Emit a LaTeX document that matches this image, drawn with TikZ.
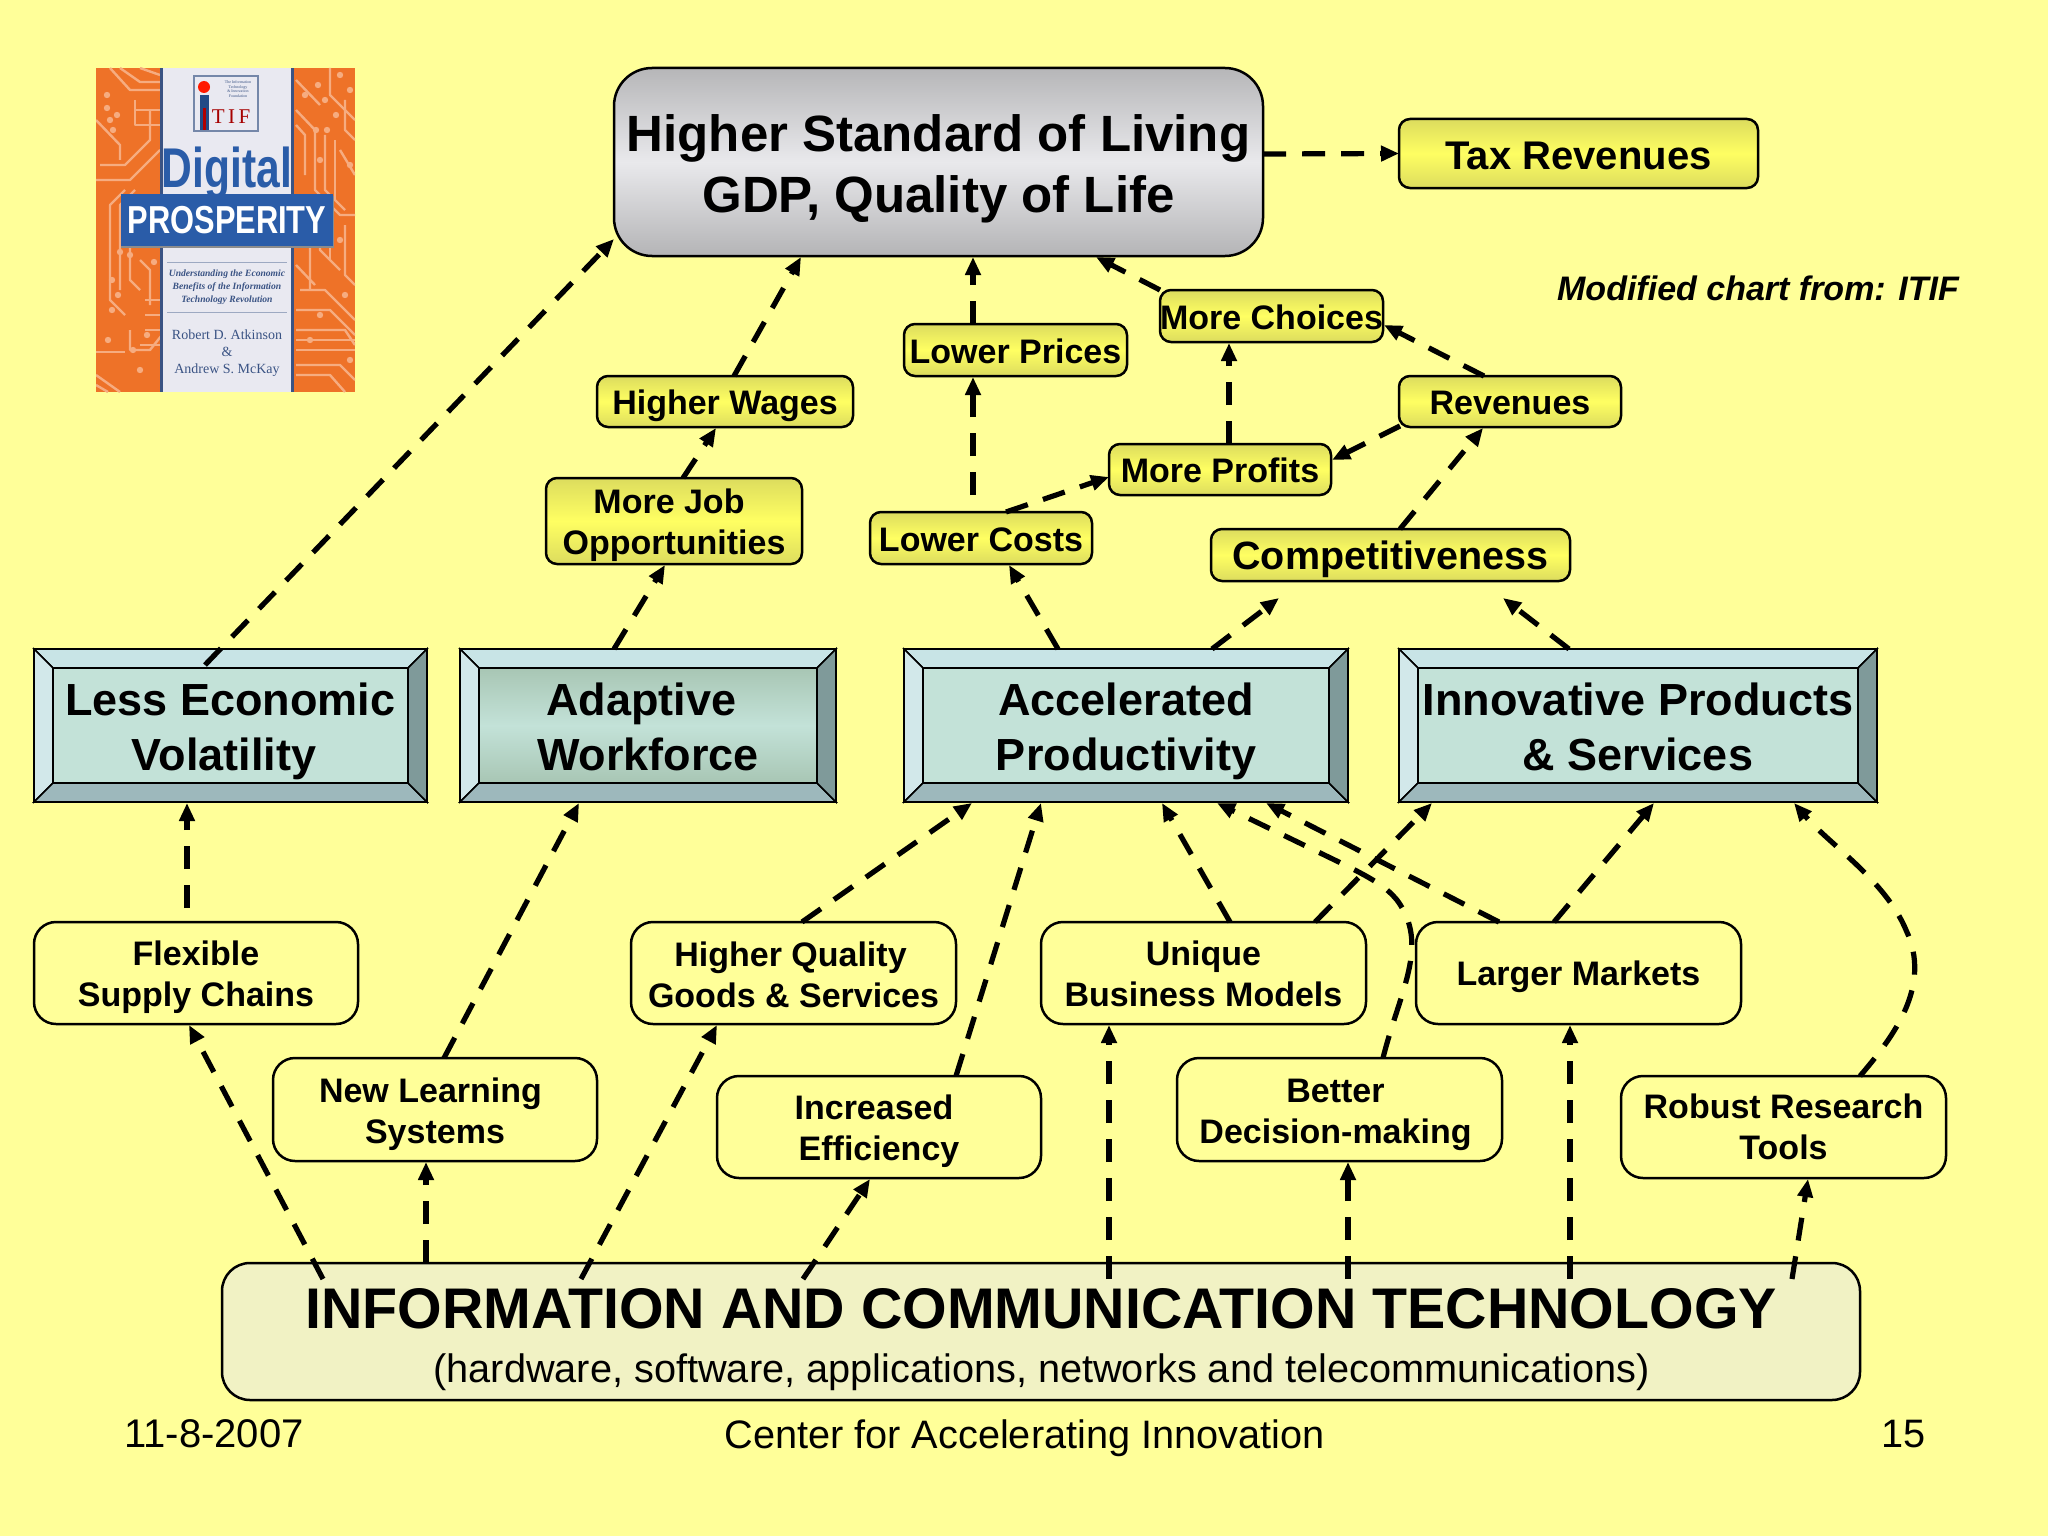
\documentclass[tikz,border=0pt]{standalone}
\usepackage{fontspec}
\setmainfont{Liberation Sans}
\newfontfamily\coverserif{Liberation Serif}
\usetikzlibrary{arrows.meta,calc}
\definecolor{bgy}{HTML}{FFFF99}
\definecolor{ydark}{HTML}{DCDC5E}
\definecolor{ymid}{HTML}{FFFF62}
\definecolor{gtop}{HTML}{B6B6B8}
\definecolor{gmid}{HTML}{E9E9EC}
\definecolor{gbot}{HTML}{B4B4B6}
\definecolor{icty}{HTML}{F1F2C4}
\definecolor{btop}{HTML}{C8E4E6}
\definecolor{bleft}{HTML}{D2E8EA}
\definecolor{bbot}{HTML}{9DB8BC}
\definecolor{bright}{HTML}{7F9A9A}
\definecolor{binner}{HTML}{C3E2D8}
\definecolor{bshade}{HTML}{A8C6B4}
\definecolor{corange}{HTML}{EE7228}
\definecolor{ctrace}{HTML}{F6AC80}
\definecolor{cstrip}{HTML}{E9E9F1}
\definecolor{cblue}{HTML}{2A5CA8}
\definecolor{cink}{HTML}{3A5384}
\tikzset{
  boxbase/.style={draw=black,line width=2.5pt,inner sep=0pt,outer sep=0pt},
  titlebox/.style={boxbase,rounded corners=38pt,shading=axis,top color=gtop,bottom color=gbot,middle color=gmid},
  yellowbox/.style={boxbase,rounded corners=11pt,shading=axis,top color=ydark,bottom color=ydark,middle color=ymid},
  plainbox/.style={boxbase,rounded corners=22pt,fill=bgy},
  ictbox/.style={boxbase,rounded corners=28pt,fill=icty},
  labeltext/.style={inner sep=0pt,outer sep=0pt,align=center,text=black},
  titletext/.style={labeltext,font=\fontsize{51}{61}\selectfont\bfseries},
  smalltext/.style={labeltext,font=\fontsize{34}{41}\selectfont\bfseries},
  bigtext/.style={labeltext,font=\fontsize{45}{55}\selectfont\bfseries},
  bevelouter/.style={draw=black,line width=2.5pt,inner sep=0pt,outer sep=0pt},
  bevelinner/.style={draw=black,line width=2pt,inner sep=0pt,outer sep=0pt,fill=binner},
  bevelshade/.style={bevelinner,shading=axis,top color=bshade,bottom color=bshade,middle color=binner},
  bevelface/.style={draw=black,line width=1.5pt},
  conn/.style={line width=5.2pt,dash pattern=on 23pt off 16pt,-{Triangle[length=18pt,width=15pt]},draw=black},
  trace/.style={draw=ctrace,line width=2.4pt,line join=round},
  covertext/.style={inner sep=0pt,outer sep=0pt,align=center},
}
\newcommand{\boxnode}[8]{%
  \pgfmathsetmacro{\cxx}{(#4+#6)/2}\pgfmathsetmacro{\cyy}{(#5+#7)/2}%
  \pgfmathsetmacro{\ww}{#6-#4}\pgfmathsetmacro{\hh}{#7-#5}%
  \node[#1,minimum width=\ww pt,minimum height=\hh pt] (#3) at (\cxx,\cyy) {};
  \node[#2] (#3-t) at (\cxx,\cyy) {#8};}
\newcommand{\bevelnode}[8]{%
  \pgfmathsetmacro{\cxx}{(#4+#6)/2}\pgfmathsetmacro{\cyy}{(#5+#7)/2}%
  \pgfmathsetmacro{\ww}{#6-#4}\pgfmathsetmacro{\hh}{#7-#5}%
  \pgfmathsetmacro{\iw}{#6-#4-38}\pgfmathsetmacro{\ih}{#7-#5-38}%
  \pgfmathsetmacro{\pax}{#4+19}\pgfmathsetmacro{\pay}{#5+19}%
  \pgfmathsetmacro{\pbx}{#6-19}\pgfmathsetmacro{\pby}{#7-19}%
  \node[bevelouter,minimum width=\ww pt,minimum height=\hh pt] (#3) at (\cxx,\cyy) {};
  \filldraw[fill=btop,bevelface] (#4,#5) -- (#6,#5) -- (\pbx,\pay) -- (\pax,\pay) -- cycle;
  \filldraw[fill=bleft,bevelface] (#4,#5) -- (\pax,\pay) -- (\pax,\pby) -- (#4,#7) -- cycle;
  \filldraw[fill=bbot,bevelface] (#4,#7) -- (\pax,\pby) -- (\pbx,\pby) -- (#6,#7) -- cycle;
  \filldraw[fill=bright,bevelface] (#6,#5) -- (\pbx,\pay) -- (\pbx,\pby) -- (#6,#7) -- cycle;
  \node[#1,minimum width=\iw pt,minimum height=\ih pt] (#3-in) at (\cxx,\cyy) {};
  \draw[black,line width=2.5pt] (#3.north west) rectangle (#3.south east);
  \node[#2] (#3-t) at (\cxx,\cyy) {#8};}
\begin{document}
\begin{tikzpicture}[x=1pt,y=-1pt]
\fill[bgy] (0,0) rectangle (2048,1536);
\useasboundingbox (0,0) rectangle (2048,1536);

% ---- book cover
\begin{scope}
\clip (96,68) rectangle (355,392);
\fill[corange] (96,68) rectangle (355,392);
\foreach \p in {
 {(100,165)--(125,165)--(150,140)--(150,110)},{(96,180)--(130,180)--(160,150)},{(110,68)--(130,90)--(160,90)},
 {(120,68)--(140,82)--(160,82)},{(140,68)--(160,75)},{(125,190)--(110,205)--(110,300)--(125,315)},{(135,190)--(120,205)--(120,290)},
 {(130,195)--(130,280)--(140,290)},{(140,200)--(160,200)},{(140,210)--(160,210)},{(140,220)--(160,220)},{(140,230)--(160,230)},
 {(130,330)--(130,350)--(150,350)--(162,335)},{(96,352)--(125,352)},{(140,260)--(150,270)--(150,305)},
 {(96,375)--(120,392)},{(96,385)--(108,392)},{(145,300)--(160,300)},{(145,315)--(160,315)},{(145,330)--(160,330)},
 {(140,345)--(160,345)},{(96,120)--(120,145)--(120,160)},{(135,100)--(135,125)--(160,125)},{(135,110)--(160,110)},
 {(296,110)--(315,130)--(315,190)--(340,215)--(355,215)},{(296,125)--(305,135)--(305,175)},{(330,68)--(330,95)--(355,120)},
 {(345,100)--(345,130)--(355,140)},{(300,200)--(320,200)--(320,250)--(340,270)},{(296,230)--(310,245)--(310,290)},
 {(300,290)--(325,290)--(355,320)},{(296,310)--(330,310)--(355,335)},{(296,330)--(345,330)--(355,345)},
 {(296,350)--(355,350)},{(296,365)--(340,365)--(355,380)},{(296,375)--(330,375)--(345,392)},
 {(296,265)--(315,285)},{(340,150)--(355,175)},{(335,140)--(335,200)},{(325,135)--(325,190)--(345,210)},
 {(296,340)--(355,340)},{(296,80)--(320,105)},{(345,225)--(345,275)--(355,285)},{(330,225)--(330,260)}}
  {\draw[trace] \p;}
\foreach \q in {(107,95),(107,108),(110,120),(113,130),(117,115),(130,230),(130,255),(112,280),(118,295),(112,310),
  (108,340),(133,350),(147,335),(140,370),(150,240),(154,262),(120,252),(305,95),(318,85),(325,100),(340,75),(350,90),
  (336,115),(320,160),(350,165),(312,225),(340,240),(320,315),(345,295),(310,340),(350,360),(316,130),(327,130)}
  {\fill[ctrace] \q circle (3.2);}
\end{scope}
\fill[cstrip] (162,68) rectangle (292,392);
\fill[cink] (160,68) rectangle (163,392);
\fill[cink] (291,68) rectangle (294,392);
% logo
\draw[cink!70,line width=1.5pt] (194,76) rectangle (258,131);
\fill[red!80!orange] (204,87) circle (6);
\fill[cblue!80!black] (200,95) rectangle (209,130);
\fill[red!70!black] (203,108) rectangle (206,130);
\node[covertext,text=red!65!black,font=\coverserif\fontsize{21}{21}\selectfont] (coverlogo) at (231,117) {T\,I\,F};
\node[covertext,text=cink,font=\coverserif\fontsize{4}{4.6}\selectfont] (coverfound) at (238,89) {The Information\\Technology\\\& Innovation\\Foundation};
% title
\node[covertext,text=cblue,font=\fontsize{56}{56}\selectfont\bfseries,xscale=0.76] (coverdigital) at (227,173) {Digital};
\fill[black!45] (121,196) rectangle (334,248);
\fill[cblue] (121,194) rectangle (333,246);
\node[covertext,text=white,font=\fontsize{39}{39}\selectfont\bfseries,xscale=0.79] (coverprosp) at (227,220) {PROSPERITY};
\draw[cink!50,line width=1pt] (167,262) -- (287,262);
\draw[cink!50,line width=1pt] (167,312) -- (287,312);
\node[covertext,text=cink,font=\coverserif\itshape\bfseries\fontsize{9.6}{13.2}\selectfont] (coversub) at (227,287) {Understanding the Economic\\Benefits of the Information\\Technology Revolution};
\node[covertext,text=cink,font=\coverserif\fontsize{14}{17}\selectfont] (coverauth) at (227,353) {Robert D. Atkinson\\\&\\Andrew S. McKay};

% ---- boxes
\boxnode{titlebox}{titletext,yshift=-6.5pt}{title}{614}{68}{1263}{256}{Higher Standard of Living\\GDP, Quality of Life}
\boxnode{yellowbox}{labeltext,font=\fontsize{40}{46}\selectfont\bfseries,yshift=-2pt}{tax}{1399}{119}{1758}{188}{Tax Revenues}
\boxnode{yellowbox}{smalltext,yshift=-1.3pt}{prices}{904}{324}{1127}{376}{Lower Prices}
\boxnode{yellowbox}{smalltext,yshift=-1.3pt}{choices}{1160}{290}{1383}{342}{More Choices}
\boxnode{yellowbox}{smalltext,yshift=-4pt}{wages}{597}{376}{853}{427}{Higher Wages}
\boxnode{yellowbox}{smalltext,yshift=-1.3pt}{rev}{1399}{376}{1621}{427}{Revenues}
\boxnode{yellowbox}{smalltext,yshift=-1.3pt}{profits}{1109}{444}{1331}{495}{More Profits}
\boxnode{yellowbox}{smalltext,yshift=-4.5pt}{job}{546}{478}{802}{564}{More Job\hspace*{10pt}\\Opportunities}
\boxnode{yellowbox}{smalltext,yshift=-2pt}{costs}{870}{512}{1092}{564}{Lower Costs}
\boxnode{yellowbox}{labeltext,font=\fontsize{39.5}{44}\selectfont\bfseries,yshift=-4pt}{comp}{1211}{529}{1570}{581}{Competitiveness}

\bevelnode{bevelinner}{bigtext,yshift=-5.5pt}{less}{34}{649}{427}{802}{Less Economic\\Volatility\hspace*{13pt}}
\bevelnode{bevelshade}{bigtext,yshift=-1pt}{adaptive}{460}{649}{836}{802}{Adaptive\hspace*{13pt}\\Workforce}
\bevelnode{bevelinner}{bigtext,yshift=-5.5pt}{accel}{904}{649}{1348}{802}{Accelerated\\Productivity}
\bevelnode{bevelinner}{bigtext,yshift=-1pt}{innov}{1399}{649}{1877}{802}{Innovative Products\\\& Services}

\boxnode{plainbox}{smalltext,yshift=-4.5pt}{flex}{34}{922}{358}{1024}{Flexible\\Supply Chains}
\boxnode{plainbox}{smalltext,yshift=-5pt}{learn}{273}{1058}{597}{1161}{New Learning\hspace*{9pt}\\Systems}
\boxnode{plainbox}{smalltext,yshift=-1.5pt}{qual}{631}{922}{956}{1024}{Higher Quality\hspace*{6pt}\\Goods \& Services}
\boxnode{plainbox}{smalltext,yshift=-4pt}{incr}{717}{1076}{1041}{1178}{Increased\hspace*{10pt}\\Efficiency}
\boxnode{plainbox}{smalltext,yshift=-1pt}{uniq}{1041}{922}{1366}{1024}{Unique\\Business Models}
\boxnode{plainbox}{smalltext,yshift=-5pt,xshift=-4pt}{better}{1177}{1058}{1502}{1161}{Better\\Decision-making}
\boxnode{plainbox}{smalltext,yshift=-4pt}{larger}{1416}{922}{1741}{1024}{Larger Markets}
\boxnode{plainbox}{smalltext,yshift=-0.2pt}{robust}{1621}{1076}{1946}{1178}{Robust Research\\Tools}
\boxnode{ictbox}{labeltext,font=\fontsize{57.3}{62}\selectfont\bfseries,yshift=22.5pt}{ict}{222}{1263}{1860}{1400}{INFORMATION AND COMMUNICATION TECHNOLOGY}
\node[labeltext,font=\fontsize{39.7}{44}\selectfont] (ictsub) at (1041.5,1372) {(hardware, software, applications, networks and telecommunications)};

% ---- free texts
\node[labeltext,font=\fontsize{34}{38}\selectfont\bfseries\itshape] (modified) at (1758,288) {Modified chart from: ITIF};
\node[labeltext,font=\fontsize{40}{44}\selectfont] (date) at (214,1434) {11-8-2007};
\node[labeltext,font=\fontsize{39.7}{44}\selectfont,yshift=-4pt] (center) at (1024.5,1434) {Center for Accelerating Innovation};
\node[labeltext,font=\fontsize{39.7}{44}\selectfont] (page) at (1903.5,1434) {15};

% ---- connectors
\draw[conn] ([yshift=8pt]title.east) -- (tax.west);
\draw[conn] ([xshift=171pt,yshift=-16pt]less.north west) -- ([yshift=17pt]title.south west);
\draw[conn] ([xshift=137pt]wages.north west) -- ([xshift=187pt,yshift=-1pt]title.south west);
\draw[conn] ([xshift=137pt]job.north west) -- ([xshift=119pt,yshift=-1pt]wages.south west);
\draw[conn] ([xshift=154pt]adaptive.north west) -- ([xshift=119pt,yshift=-1pt]job.south west);
\draw[conn] ([xshift=69pt]prices.north west) -- ([xshift=359pt,yshift=-1pt]title.south west);
\draw[conn] ([xshift=103pt,yshift=17pt]costs.north west) -- ([xshift=69pt,yshift=-1pt]prices.south west);
\draw[conn] ([xshift=136pt]costs.north west) -- ([yshift=-33pt]profits.north west);
\draw[conn] ([xshift=154pt]accel.north west) -- ([xshift=139pt,yshift=-1pt]costs.south west);
\draw[conn] ([xshift=308pt]accel.north west) -- ([xshift=68pt,yshift=-17pt]comp.south west);
\draw[conn] ([xshift=170pt]innov.north west) -- ([xshift=292pt,yshift=-17pt]comp.south west);
\draw[conn] ([xshift=189pt]comp.north west) -- ([xshift=84pt,yshift=-1pt]rev.south west);
\draw[conn] ([xshift=1pt,yshift=1pt]rev.south west) -- ([xshift=1pt,yshift=-16pt]profits.north east);
\draw[conn] ([xshift=85pt]rev.north west) -- ([xshift=1pt,yshift=-35pt]choices.north east);
\draw[conn] ([xshift=120pt]profits.north west) -- ([xshift=69pt,yshift=-1pt]choices.south west);
\draw[conn] (choices.north west) -- ([xshift=482pt,yshift=-1pt]title.south west);
\draw[conn] ([xshift=153pt,yshift=14pt]flex.north west) -- ([xshift=153pt,yshift=-1pt]less.south west);
\draw[conn] ([xshift=101pt,yshift=-16pt]ict.north west) -- ([xshift=155pt,yshift=-1pt]flex.south west);
\draw[conn] ([xshift=204pt]ict.north west) -- ([xshift=153pt,yshift=-1pt]learn.south west);
\draw[conn] ([xshift=359pt,yshift=-16pt]ict.north west) -- ([xshift=86pt,yshift=-1pt]qual.south west);
\draw[conn] ([xshift=581pt,yshift=-16pt]ict.north west) -- ([xshift=153pt,yshift=-1pt]incr.south west);
\draw[conn] ([xshift=887pt,yshift=-16pt]ict.north west) -- ([xshift=68pt,yshift=-1pt]uniq.south west);
\draw[conn] ([xshift=1126pt,yshift=-16pt]ict.north west) -- ([xshift=171pt,yshift=-1pt]better.south west);
\draw[conn] ([xshift=1348pt,yshift=-16pt]ict.north west) -- ([xshift=154pt,yshift=-1pt]larger.south west);
\draw[conn] ([xshift=1570pt,yshift=-16pt]ict.north west) -- ([xshift=187pt,yshift=-1pt]robust.south west);
\draw[conn] ([xshift=171pt]learn.north west) -- ([xshift=119pt,yshift=-1pt]adaptive.south west);
\draw[conn] ([xshift=171pt]qual.north west) -- ([xshift=68pt,yshift=-1pt]accel.south west);
\draw[conn] ([xshift=239pt]incr.north west) -- ([xshift=137pt,yshift=-1pt]accel.south west);
\draw[conn] ([xshift=189pt]uniq.north west) -- ([xshift=258pt,yshift=-1pt]accel.south west);
\draw[conn] ([xshift=274pt]uniq.north west) -- ([xshift=33pt,yshift=-1pt]innov.south west);
\draw[conn] ([xshift=206pt]better.north west) .. controls (1400,990) and (1430,945) .. (1397,900) .. controls (1387,888) and (1375,880) .. (1345,865) -- ([xshift=313pt,yshift=-1pt]accel.south west);
\draw[conn] ([xshift=83pt]larger.north west) -- ([xshift=362pt,yshift=-1pt]accel.south west);
\draw[conn] ([xshift=138pt]larger.north west) -- ([xshift=255pt,yshift=-1pt]innov.south west);
\draw[conn] ([xshift=239pt]robust.north west) .. controls (1895,1035) and (1932,985) .. (1906,930) .. controls (1885,880) and (1830,845) .. ([xshift=395pt,yshift=-1pt]innov.south west);
\end{tikzpicture}
\end{document}
